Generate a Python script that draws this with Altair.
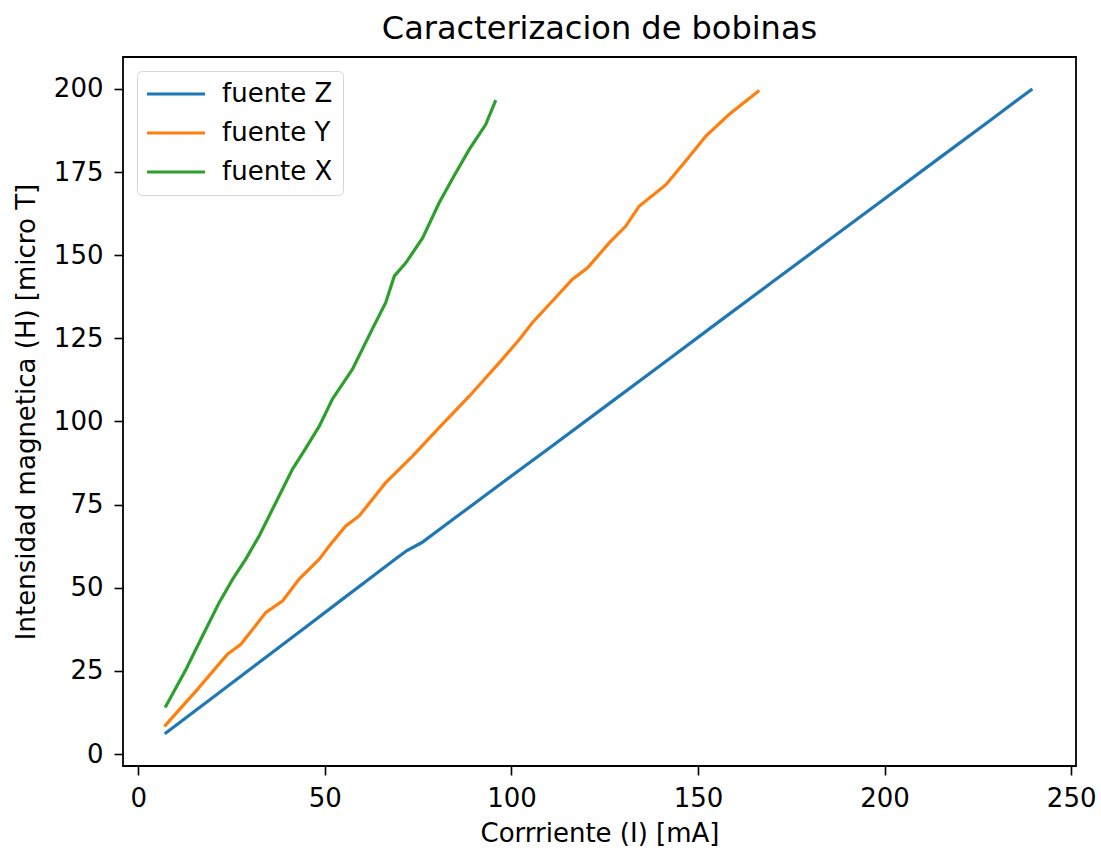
import altair as alt
import pandas as pd

# Coil characterisation: field intensity vs. current for three sources
serie_z_i = [7.1, 15, 25, 35, 45, 55, 63, 69, 72, 76, 85, 97, 110, 125, 140, 155, 170, 185, 200, 215, 228, 239.6]
serie_z_h = [6.1, 12.8, 21.3, 29.8, 38.3, 46.8, 53.6, 58.7, 61.2, 63.6, 71.1, 81.1, 91.9, 104.4, 116.9, 129.5, 142.0, 154.5, 167.0, 179.5, 190.3, 200.0]

serie_y_i = [7.0, 15.5, 23.9, 27.5, 34.2, 38.7, 43.1, 48.5, 51.2, 55.6, 59.2, 66.3, 73.5, 81.0, 88.7, 93.0, 97.0, 102.0, 105.6, 110.8,
             116.3, 120.4, 126.2, 130.6, 134.2, 141.4, 146.8, 152.1, 158.3, 166.4]
serie_y_h = [8.3, 19.0, 30.0, 33.0, 42.6, 46.1, 52.6, 58.6, 62.6, 68.6, 71.6, 81.6, 89.6, 98.6, 107.6, 113.0, 118.0, 124.5, 129.7, 136.0,
             142.7, 146.2, 153.7, 158.7, 164.7, 171.2, 178.5, 185.8, 192.3, 199.5]

serie_x_i = [7.2, 12.8, 17.2, 21.7, 25.3, 28.8, 32.4, 36.8, 41.3, 44.9, 48.5, 52.0, 57.4, 62.8, 66.3, 68.6, 71.7, 76.2, 80.6, 84.6,
             88.7, 93.1, 95.8]
serie_x_h = [14.0, 25.5, 35.5, 45.6, 52.6, 58.6, 65.6, 75.5, 85.6, 92.0, 98.6, 106.7, 115.7, 128.0, 135.7, 143.7, 147.7, 155.2, 165.7, 173.8,
             181.8, 189.3, 196.6]

series_names = ["fuente Z", "fuente Y", "fuente X"]
series_colors = ["#1f77b4", "#ff7f0e", "#2ca02c"]

x_ticks = [0, 50, 100, 150, 200, 250]
y_ticks = [0, 25, 50, 75, 100, 125, 150, 175, 200]

rows = []
for name, xs, ys in [
    ("fuente Z", serie_z_i, serie_z_h),
    ("fuente Y", serie_y_i, serie_y_h),
    ("fuente X", serie_x_i, serie_x_h),
]:
    for k, (xi, yi) in enumerate(zip(xs, ys)):
        rows.append({"serie": name, "orden": k, "I": xi, "H": yi})
df = pd.DataFrame(rows)

FONT = "DejaVu Sans"
LINE_W = 3.2

# A long, flat legend swatch: the path runs from -1.3 to 4.5 in symbol units,
# so it is much wider than the symbol's nominal size and sits to its right.
SWATCH = "M-1.3,0H4.5"

chart = (
    alt.Chart(df)
    .mark_line(strokeWidth=LINE_W)
    .encode(
        x=alt.X(
            "I:Q",
            scale=alt.Scale(domain=[-4.1, 251.3], nice=False, zero=False),
            axis=alt.Axis(values=x_ticks, title="Corrriente (I) [mA]", titlePadding=9),
        ),
        y=alt.Y(
            "H:Q",
            scale=alt.Scale(domain=[-3.6, 209.6], nice=False, zero=False),
            axis=alt.Axis(values=y_ticks, title="Intensidad magnetica (H) [micro T]", titlePadding=14),
        ),
        color=alt.Color(
            "serie:N",
            scale=alt.Scale(domain=series_names, range=series_colors),
            legend=alt.Legend(
                title=None,
                orient="none",
                legendX=14,
                legendY=14,
                symbolType=SWATCH,
                symbolSize=400,
                symbolStrokeWidth=LINE_W,
                symbolFillColor="transparent",
                labelOffset=49,
                rowPadding=13,
                padding=10,
                cornerRadius=5,
                strokeColor="#d6d6d6",
                fillColor="white",
                labelFont=FONT,
                labelFontSize=26,
                labelColor="black",
            ),
        ),
        order="orden:Q",
        detail="serie:N",
    )
    .properties(
        width=953,
        height=709,
        title=alt.TitleParams(
            "Caracterizacion de bobinas",
            font=FONT,
            fontSize=32,
            fontWeight="normal",
            color="black",
            anchor="middle",
            offset=11,
        ),
        autosize=alt.AutoSizeParams(type="none"),
        padding={"left": 123, "top": 57, "right": 25, "bottom": 84},
    )
    .configure_view(stroke="black", strokeWidth=1.8)
    .configure_axis(
        domain=False,
        grid=False,
        ticks=True,
        tickColor="black",
        tickWidth=1.6,
        tickSize=9,
        labelFont=FONT,
        labelFontSize=26,
        labelColor="black",
        titleFont=FONT,
        titleFontSize=26,
        titleFontWeight="normal",
        titleColor="black",
    )
    .configure_axisX(labelPadding=10)
    .configure_axisY(labelPadding=11)
)

chart.save("out.html", embed_options={"renderer": "svg", "actions": False})
